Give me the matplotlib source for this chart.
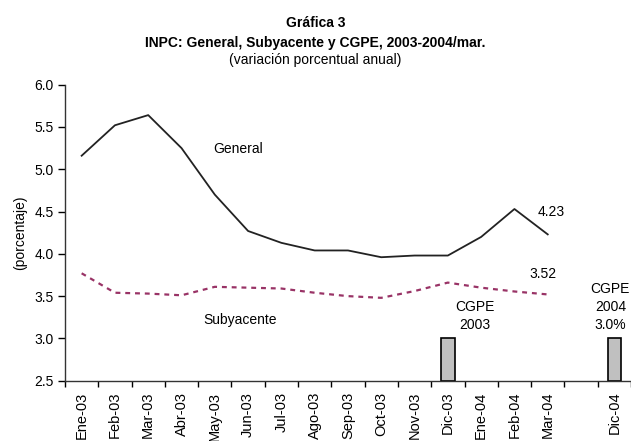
import matplotlib
matplotlib.use("Agg")
from matplotlib import pyplot as plt

plt.rcParams['font.family'] = ['Liberation Sans', 'DejaVu Sans']

# data
months = ['Ene-03', 'Feb-03', 'Mar-03', 'Abr-03', 'May-03', 'Jun-03', 'Jul-03',
          'Ago-03', 'Sep-03', 'Oct-03', 'Nov-03', 'Dic-03', 'Ene-04', 'Feb-04', 'Mar-04']
general = [5.16, 5.52, 5.64, 5.25, 4.70, 4.27, 4.13, 4.04, 4.04, 3.96, 3.98, 3.98, 4.20, 4.53, 4.23]
subyacente = [3.77, 3.54, 3.53, 3.51, 3.61, 3.60, 3.59, 3.54, 3.50, 3.48, 3.56, 3.66, 3.60, 3.555, 3.52]
cgpe_labels = ['Dic-03', 'Dic-04']
cgpe_values = [3.0, 3.0]

# positions: months 0..14, empty slot, Dic-04 at 16
x_months = list(range(len(months)))
x_cgpe = [months.index('Dic-03'), len(months) + 1]
tick_pos = x_months + [x_cgpe[1]]
tick_lab = months + [cgpe_labels[1]]

fig = plt.figure(figsize=(6.31, 4.41), dpi=100)
ax = fig.add_axes([0.103, 0.1367, 0.898, 0.6713])

base = 2.5
ax.bar(x_cgpe, [v - base for v in cgpe_values], bottom=base, width=0.4,
       color='#c0c0c0', edgecolor='black', linewidth=1.2, zorder=2)
ax.plot(x_months, general, color='#222222', lw=1.3, zorder=3)
ax.plot(x_months, subyacente, color='#993366', lw=1.6, dashes=(2.2, 2.2), zorder=3)

ax.set_xlim(-0.5, 16.52)
ax.set_ylim(2.5, 6.0)
ax.set_yticks([2.5, 3.0, 3.5, 4.0, 4.5, 5.0, 5.5, 6.0])
ax.set_yticklabels(['%.1f' % v for v in ax.get_yticks()], fontsize=10)
ax.set_xticks(tick_pos)
ax.set_xticklabels(tick_lab, rotation=90, fontsize=10.5)
ax.set_xticks([i - 0.5 for i in range(18)], minor=True)
ax.tick_params(axis='x', which='major', length=0, pad=8)
ax.tick_params(axis='x', which='minor', length=4, width=1, direction='out')
ax.tick_params(axis='y', length=5, width=1, direction='out', pad=3)

for s in ['top', 'right']:
    ax.spines[s].set_visible(False)
for s in ['left', 'bottom']:
    ax.spines[s].set_linewidth(1)
    ax.spines[s].set_color('#333333')

ax.set_ylabel('(porcentaje)', fontsize=10, labelpad=5)

ax.text(4.70, 5.24, 'General', fontsize=10, ha='center', va='center')
ax.text(4.75, 3.22, 'Subyacente', fontsize=10, ha='center', va='center')
ax.text(14.1, 4.49, '4.23', fontsize=10, ha='center', va='center')
ax.text(13.87, 3.76, '3.52', fontsize=10, ha='center', va='center')
ax.text(11.8, 3.27, 'CGPE\n2003', fontsize=10, ha='center', va='center', linespacing=1.35)
ax.text(15.88, 3.37, 'CGPE\n2004\n3.0%', fontsize=10, ha='center', va='center',
        linespacing=1.35, clip_on=False)

fig.text(0.5, 0.948, 'Gráfica 3', fontsize=10, fontweight='bold', ha='center', va='center')
fig.text(0.5, 0.903, 'INPC: General, Subyacente y CGPE, 2003-2004/mar.', fontsize=10,
         fontweight='bold', ha='center', va='center')
fig.text(0.5, 0.864, '(variación porcentual anual)', fontsize=10, ha='center', va='center')

fig.savefig('out.png', dpi=100)
